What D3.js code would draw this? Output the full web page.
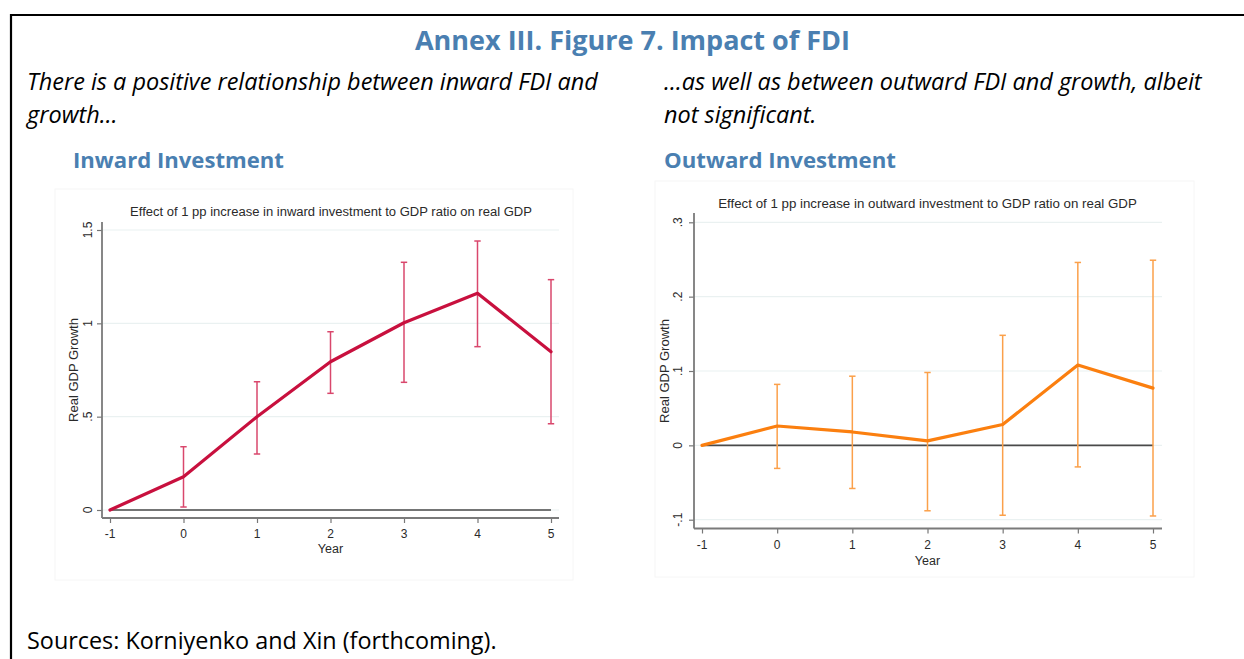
<!DOCTYPE html>
<html><head><meta charset="utf-8">
<script src="https://cdn.jsdelivr.net/npm/d3@7"></script>
<style>html,body{margin:0;padding:0;background:#fff;}svg{display:block;}</style>
</head><body>
<svg id="c" width="1244" height="659"></svg>
<script>
// ---------- data ----------
const years = [-1, 0, 1, 2, 3, 4, 5];
const xTickLabels = ["-1", "0", "1", "2", "3", "4", "5"];

const inwardEst = [0, 0.178, 0.500, 0.794, 1.003, 1.161, 0.848];
const inwardLo  = [0, 0.016, 0.300, 0.625, 0.684, 0.875, 0.462];
const inwardHi  = [0, 0.339, 0.687, 0.955, 1.327, 1.441, 1.234];
const inwardTicks = [0, 0.5, 1, 1.5];
const inwardTickLabels = ["0", ".5", "1", "1.5"];

const outwardEst = [0, 0.026, 0.018, 0.006, 0.028, 0.108, 0.077];
const outwardLo  = [0, -0.031, -0.058, -0.088, -0.094, -0.029, -0.095];
const outwardHi  = [0, 0.082, 0.093, 0.098, 0.148, 0.246, 0.249];
const outwardTicks = [-0.1, 0, 0.1, 0.2, 0.3];
const outwardTickLabels = ["-.1", "0", ".1", ".2", ".3"];

const figTitle = "Annex III. Figure 7. Impact of FDI";
const leftNote = ["There is a positive relationship between inward FDI and", "growth…"];
const rightNote = ["…as well as between outward FDI and growth, albeit", "not significant."];
const panelHeads = ["Inward Investment", "Outward Investment"];
const innerTitles = ["Effect of 1 pp increase in inward investment to GDP ratio on real GDP",
                     "Effect of 1 pp increase in outward investment to GDP ratio on real GDP"];
const source = "Sources: Korniyenko and Xin (forthcoming).";

// ---------- helpers ----------
const svg = d3.select("#c");
const BLUE = "#4a7fb1";
const HEAD_FONT = "'Open Sans', 'Noto Sans', sans-serif";
const CHART_FONT = "'Liberation Sans', Arial, sans-serif";
const INK = "#2a2a2a";

function fitText(sel, target) {
  const w = sel.node().getComputedTextLength();
  const fs = parseFloat(sel.attr("font-size"));
  sel.attr("font-size", (fs * target / w).toFixed(2));
}
function addText(x, centerY, str, opts) {
  const fs = opts.size;
  const t = svg.append("text")
    .attr("x", x).attr("y", centerY + fs * 0.36)
    .attr("font-family", opts.family || HEAD_FONT)
    .attr("font-size", fs)
    .attr("font-weight", opts.weight || "normal")
    .attr("font-style", opts.style || "normal")
    .attr("fill", opts.fill || "#000")
    .attr("text-anchor", opts.anchor || "start")
    .text(str);
  if (opts.width) {
    fitText(t, opts.width);
    const nfs = parseFloat(t.attr("font-size"));
    t.attr("y", centerY + nfs * 0.36);
  }
  return t;
}

// ---------- frame ----------
svg.append("line").attr("x1", 10).attr("x2", 1244).attr("y1", 15).attr("y2", 15)
  .attr("stroke", "#000").attr("stroke-width", 2.2);
svg.append("line").attr("x1", 11).attr("x2", 11).attr("y1", 14).attr("y2", 659)
  .attr("stroke", "#000").attr("stroke-width", 2.2);

// ---------- texts ----------
addText(632.5, 40, figTitle, {size: 24, weight: "bold", fill: BLUE, anchor: "middle", width: 435});
const ln1 = addText(27, 82, leftNote[0], {size: 20, style: "italic", width: 571});
const noteSize = +ln1.attr("font-size");
addText(27, 115, leftNote[1], {size: noteSize, style: "italic"});
addText(664, 82, rightNote[0], {size: noteSize, style: "italic"});
addText(664, 115, rightNote[1], {size: noteSize, style: "italic"});
addText(73, 160, panelHeads[0], {size: 21, weight: "bold", fill: BLUE, width: 211});
addText(664, 160, panelHeads[1], {size: 21, weight: "bold", fill: BLUE, width: 232});
addText(27, 641, source, {size: 20, width: 470});

// ---------- panels ----------
const panels = [
  {est: inwardEst, lo: inwardLo, hi: inwardHi, ticks: inwardTicks, tickLabels: inwardTickLabels,
   domain: [0, 1.5], xr: [110, 551], yr: [510, 230], axX: 102, axY: 518, axTop: 222, axRight: 559,
   frame: [55, 189, 573, 580], title: innerTitles[0], titleX: 331, titleY: 211, titleW: 402,
   ytlX: 88, ylabX: 73, xtlY: 534, xlabY: 548.5,
   line: "#c8103e", bar: "#d9476c"},
  {est: outwardEst, lo: outwardLo, hi: outwardHi, ticks: outwardTicks, tickLabels: outwardTickLabels,
   domain: [-0.1, 0.3], xr: [702, 1153], yr: [519.7, 222.3], axX: 694, axY: 528.5, axTop: 213, axRight: 1162,
   frame: [655, 181, 1194, 577], title: innerTitles[1], titleX: 927.5, titleY: 203, titleW: 419,
   ytlX: 678, ylabX: 664, xtlY: 545, xlabY: 560,
   line: "#fb7f0f", bar: "#fba04a"}
];

panels.forEach(p => {
  const g = svg.append("g");
  const x = d3.scaleLinear().domain([-1, 5]).range(p.xr);
  const y = d3.scaleLinear().domain(p.domain).range(p.yr);

  // chart image frame (very faint)
  g.append("rect").attr("x", p.frame[0]).attr("y", p.frame[1])
    .attr("width", p.frame[2] - p.frame[0]).attr("height", p.frame[3] - p.frame[1])
    .attr("fill", "#fff").attr("stroke", "#f6f6f6").attr("stroke-width", 1);

  // gridlines
  g.selectAll(".grid").data(p.ticks).join("line")
    .attr("x1", p.axX).attr("x2", p.axRight)
    .attr("y1", d => y(d)).attr("y2", d => y(d))
    .attr("stroke", "#eaf1f1").attr("stroke-width", 1.2);

  // y axis
  const yAxis = d3.axisLeft(y).tickValues(p.ticks)
    .tickFormat((d, i) => p.tickLabels[i]).tickSize(5).tickSizeOuter(0);
  const ya = g.append("g").attr("transform", `translate(${p.axX},0)`).call(yAxis);
  ya.select(".domain").remove();
  ya.selectAll(".tick line").attr("stroke", "#777").attr("stroke-width", 1.2);
  ya.selectAll(".tick text").remove();
  g.append("line").attr("x1", p.axX).attr("x2", p.axX).attr("y1", p.axTop).attr("y2", p.axY)
    .attr("stroke", "#7a7a7a").attr("stroke-width", 1.8);
  g.selectAll(".ytl").data(p.ticks).join("text")
    .attr("transform", (d) => `translate(${p.ytlX + 4.3},${y(d)}) rotate(-90)`)
    .attr("text-anchor", "middle").attr("font-family", CHART_FONT).attr("font-size", 12)
    .attr("fill", INK).text((d, i) => p.tickLabels[i]);
  g.append("text")
    .attr("transform", `translate(${p.ylabX + 4.5},${(p.yr[0] + p.yr[1]) / 2}) rotate(-90)`)
    .attr("text-anchor", "middle").attr("font-family", CHART_FONT).attr("font-size", 13)
    .attr("fill", INK).text("Real GDP Growth");

  // x axis
  const xAxis = d3.axisBottom(x).tickValues(years)
    .tickFormat((d, i) => xTickLabels[i]).tickSize(5).tickSizeOuter(0);
  const xa = g.append("g").attr("transform", `translate(0,${p.axY})`).call(xAxis);
  xa.select(".domain").remove();
  xa.selectAll(".tick line").attr("stroke", "#777").attr("stroke-width", 1.2);
  xa.selectAll(".tick text").remove();
  g.append("line").attr("x1", p.axX).attr("x2", p.axRight).attr("y1", p.axY).attr("y2", p.axY)
    .attr("stroke", "#7a7a7a").attr("stroke-width", 1.8);
  g.selectAll(".xtl").data(years).join("text")
    .attr("x", d => x(d)).attr("y", p.xtlY + 4.3)
    .attr("text-anchor", "middle").attr("font-family", CHART_FONT).attr("font-size", 12)
    .attr("fill", INK).text((d, i) => xTickLabels[i]);
  g.append("text").attr("x", (p.xr[0] + p.xr[1]) / 2).attr("y", p.xlabY + 4.5)
    .attr("text-anchor", "middle").attr("font-family", CHART_FONT).attr("font-size", 12.5)
    .attr("fill", INK).text("Year");

  // title
  const t = g.append("text").attr("x", p.titleX).attr("y", p.titleY + 4.5)
    .attr("text-anchor", "middle").attr("font-family", CHART_FONT).attr("font-size", 12.5)
    .attr("fill", INK).text(p.title);
  fitText(t, p.titleW);

  // zero line
  g.append("line").attr("x1", x(-1)).attr("x2", x(5)).attr("y1", y(0)).attr("y2", y(0))
    .attr("stroke", "#4a4a4a").attr("stroke-width", 1.6);

  // error bars (years 0..5)
  const eb = years.map((yr, i) => ({yr, lo: p.lo[i], hi: p.hi[i]})).filter(d => d.yr >= 0);
  g.selectAll(".ebv").data(eb).join("line")
    .attr("x1", d => x(d.yr)).attr("x2", d => x(d.yr))
    .attr("y1", d => y(d.lo)).attr("y2", d => y(d.hi))
    .attr("stroke", p.bar).attr("stroke-width", 1.5);
  ["lo", "hi"].forEach(k => {
    g.selectAll(".cap" + k).data(eb).join("line")
      .attr("x1", d => x(d.yr) - 3.2).attr("x2", d => x(d.yr) + 3.2)
      .attr("y1", d => y(d[k])).attr("y2", d => y(d[k]))
      .attr("stroke", p.bar).attr("stroke-width", 1.5);
  });

  // estimate line
  const ln = d3.line().x((d, i) => x(years[i])).y(d => y(d));
  g.append("path").datum(p.est).attr("d", ln)
    .attr("fill", "none").attr("stroke", p.line).attr("stroke-width", 3.2)
    .attr("stroke-linejoin", "round").attr("stroke-linecap", "round");
});
</script>
</body></html>
